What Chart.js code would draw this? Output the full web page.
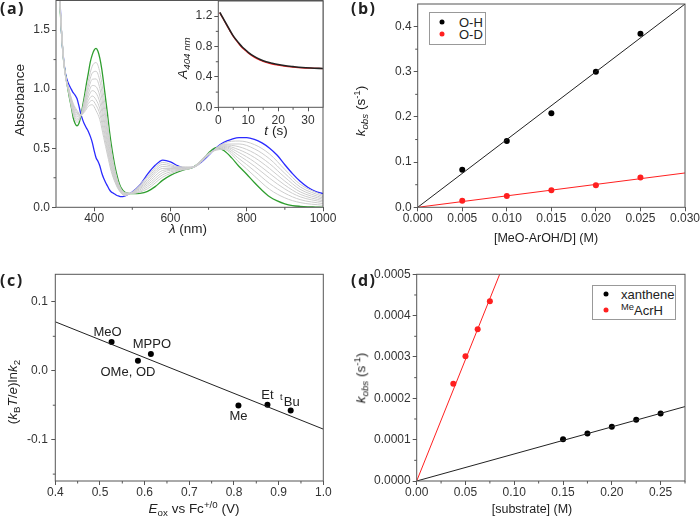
<!DOCTYPE html>
<html>
<head>
<meta charset="utf-8">
<script src="https://cdn.jsdelivr.net/npm/chart.js@4.4.1/dist/chart.umd.min.js"></script>
<style>
  body { margin: 0; width: 700px; height: 522px; position: relative; overflow: hidden; background: #fff;
         font-family: "Liberation Sans", Arial, sans-serif; color: #222; }
  canvas { position: absolute; }
  .t { position: absolute; white-space: nowrap; font-size: 13.5px; line-height: 1; }
  .s { font-size: 12.5px; }
  .c { transform: translate(-50%, -50%); }
  .r { transform: translate(-50%, -50%) rotate(-90deg); }
  .m { transform: translateY(-50%); font-size: 13px; }
  .b { font-family: "Open Sans", sans-serif; font-weight: bold; font-size: 16px; letter-spacing: 1.5px; }
  sub, sup { font-size: 72%; line-height: 0; position: relative; vertical-align: baseline; }
  sub { top: 0.3em; }
  sup { top: -0.5em; }
  .lg { position: absolute; border: 1px solid #999; background: #fff; }
  .dot { position: absolute; width: 5px; height: 5px; border-radius: 50%; transform: translate(-50%, -50%); }
</style>
</head>
<body>
<canvas id="pa" width="350" height="261" style="left:0;top:0"></canvas>
<canvas id="pin" width="170" height="140" style="left:165px;top:0"></canvas>
<canvas id="pb" width="360" height="261" style="left:350px;top:0"></canvas>
<canvas id="pc" width="350" height="261" style="left:0;top:261px"></canvas>
<canvas id="pd" width="360" height="261" style="left:350px;top:261px"></canvas>

<div class="t b" style="left:0;top:0">(a)</div>
<div class="t b" style="left:351px;top:0">(b)</div>
<div class="t b" style="left:0;top:272px">(c)</div>
<div class="t b" style="left:351px;top:272px">(d)</div>

<div class="t r" style="left:20px;top:100px">Absorbance</div>
<div class="t c" style="left:188px;top:229px"><i>λ</i> (nm)</div>
<div class="t r" style="left:183px;top:58px"><i>A</i><sub><i>404 nm</i></sub></div>
<div class="t c" style="left:276px;top:131px"><i>t</i> (s)</div>

<div class="t r" style="left:361px;top:111px"><i>k<sub>obs</sub></i> (s<sup>-1</sup>)</div>
<div class="t s c" style="left:546px;top:238px">[MeO-ArOH/D] (M)</div>
<div class="lg" style="left:429px;top:12px;width:55px;height:31px"></div>
<span class="dot" style="left:442px;top:22px;background:#000"></span>
<div class="t m" style="left:459px;top:22px">O-H</div>
<span class="dot" style="left:442px;top:34px;background:#ff2020"></span>
<div class="t m" style="left:459px;top:34px">O-D</div>

<div class="t r" style="left:13px;top:392px">(<i>k</i><sub>B</sub><i>T</i>/<i>e</i>)ln<i>k</i><sub>2</sub></div>
<div class="t c" style="left:194px;top:509px"><i>E</i><sub>ox</sub> vs Fc<sup>+/0</sup> (V)</div>

<div class="t r" style="left:361px;top:378px"><i>k<sub>obs</sub></i> (s<sup>-1</sup>)</div>
<div class="t s c" style="left:532px;top:509px">[substrate] (M)</div>
<div class="lg" style="left:592px;top:285px;width:82px;height:33px"></div>
<span class="dot" style="left:606px;top:294px;background:#000"></span>
<div class="t m" style="left:621px;top:294px">xanthene</div>
<span class="dot" style="left:606px;top:310px;background:#ff2020"></span>
<div class="t m" style="left:621px;top:310px"><sup>Me</sup>AcrH</div>

<script>
// ---- (a) spectra ----
const wl = [305,310,315,320,325,330,335,340,345,350,355,360,365,370,375,380,385,390,395,400,
  405,410,415,420,425,430,435,440,445,450,455,460,465,470,480,490,500,520,540,560,580,600,
  620,640,660,680,700,720,740,760,780,800,820,840,860,880,900,920,940,960,980,1000];
const absStart = [2.00,1.72,1.45,1.24,1.12,1.02,0.93,0.85,0.76,0.71,0.69,0.71,0.77,0.86,0.95,1.05,1.14,1.23,1.29,1.33,
  1.345,1.32,1.26,1.17,1.05,0.92,0.79,0.65,0.53,0.43,0.34,0.27,0.21,0.17,0.13,0.118,0.115,0.118,0.135,0.175,0.23,0.27,
  0.30,0.32,0.34,0.39,0.46,0.505,0.48,0.42,0.345,0.28,0.21,0.145,0.09,0.055,0.03,0.015,0.008,0.004,0.002,0.0];
const absEnd = [2.10,1.78,1.45,1.25,1.13,1.07,1.03,1.00,0.97,0.95,0.92,0.86,0.79,0.74,0.70,0.67,0.64,0.60,0.55,0.48,
  0.42,0.39,0.35,0.29,0.245,0.21,0.18,0.15,0.13,0.12,0.11,0.10,0.095,0.09,0.095,0.11,0.13,0.19,0.28,0.355,0.40,0.385,
  0.35,0.33,0.34,0.38,0.44,0.505,0.55,0.575,0.59,0.59,0.575,0.545,0.50,0.44,0.36,0.285,0.22,0.17,0.135,0.115];
const wlMid = [305,320,335,345,355,365,375,385,395,405,415,425,435,445,455,465,480,500,540,580,620,660,700,740,780,820,860,900,940,1000];
const absMid = [
  [2.01,1.24,0.943,0.787,0.72,0.773,0.918,1.075,1.194,1.225,1.142,0.945,0.711,0.478,0.31,0.195,0.125,0.117,0.157,0.256,0.308,0.34,0.457,0.491,0.382,0.265,0.152,0.08,0.04,0.017],
  [2.02,1.242,0.951,0.804,0.738,0.774,0.898,1.035,1.135,1.151,1.069,0.881,0.662,0.446,0.292,0.186,0.121,0.119,0.174,0.276,0.314,0.34,0.455,0.499,0.411,0.309,0.201,0.119,0.065,0.031],
  [2.03,1.243,0.958,0.819,0.754,0.776,0.88,1.0,1.083,1.086,1.005,0.825,0.619,0.418,0.276,0.178,0.117,0.121,0.19,0.295,0.319,0.34,0.452,0.507,0.438,0.349,0.246,0.155,0.089,0.044],
  [2.035,1.244,0.965,0.834,0.77,0.777,0.863,0.965,1.031,1.021,0.941,0.768,0.576,0.39,0.259,0.17,0.113,0.122,0.205,0.312,0.324,0.34,0.45,0.514,0.463,0.385,0.287,0.188,0.11,0.055],
  [2.04,1.244,0.971,0.846,0.784,0.778,0.848,0.935,0.987,0.966,0.887,0.72,0.54,0.366,0.246,0.163,0.11,0.124,0.219,0.329,0.329,0.34,0.448,0.521,0.487,0.422,0.328,0.221,0.131,0.067],
  [2.047,1.245,0.977,0.859,0.798,0.779,0.833,0.905,0.942,0.91,0.832,0.672,0.503,0.342,0.232,0.156,0.106,0.125,0.234,0.346,0.334,0.34,0.446,0.528,0.512,0.458,0.369,0.254,0.152,0.078],
  [2.052,1.245,0.982,0.869,0.81,0.78,0.82,0.88,0.905,0.864,0.787,0.631,0.473,0.322,0.22,0.15,0.103,0.127,0.248,0.363,0.339,0.34,0.444,0.535,0.536,0.495,0.41,0.287,0.173,0.09],
  [2.057,1.246,0.987,0.88,0.821,0.781,0.808,0.855,0.868,0.818,0.741,0.591,0.442,0.302,0.209,0.144,0.099,0.128,0.263,0.38,0.344,0.34,0.442,0.542,0.561,0.531,0.451,0.32,0.195,0.101]
];

// ---- (a) inset: A404 vs t ----
const tDecay = [0.5,1,2,3,4,5,6,7,8,9,10,12,14,16,18,20,22,25,28,31,35];
const aData = [1.25,1.215,1.145,1.075,1.005,0.94,0.888,0.84,0.795,0.76,0.725,0.67,0.63,0.60,0.58,0.563,0.55,0.536,0.524,0.517,0.511];
const aFit = [1.245,1.21,1.14,1.07,1.0,0.935,0.88,0.83,0.785,0.75,0.715,0.66,0.62,0.59,0.57,0.555,0.543,0.53,0.52,0.515,0.51];

// ---- (b) kobs vs [MeO-ArOH/D] ----
const concB = [0.005,0.010,0.015,0.020,0.025];
const kOH = [0.083,0.147,0.208,0.300,0.384];
const kOD = [0.0145,0.025,0.038,0.0486,0.066];
const fitBx = [0, 0.03];
const fitOH = [0, 0.45];
const fitOD = [0, 0.076];

// ---- (c) free-energy plot ----
const eox = [0.526,0.585,0.614,0.81,0.875,0.927];
const lnk = [0.0416,0.0145,0.0242,-0.0503,-0.0493,-0.0576];
const subNames = ['MeO','OMe, OD','MPPO','Me','Et','Bu'];
const subSup = ['','','','','','t'];
const fitCx = [0.4, 1.0];
const fitCy = [0.071, -0.0847];

// ---- (d) kobs vs [substrate] ----
const xanC = [0.15,0.175,0.20,0.225,0.25];
const xanK = [0.000101,0.000115,0.000131,0.000148,0.000163];
const acrC = [0.0375,0.05,0.0625,0.075];
const acrK = [0.000235,0.000302,0.000367,0.000435];
const fitXanX = [0, 0.275], fitXanY = [0, 0.00018];
const fitAcrX = [0, 0.1], fitAcrY = [0, 0.000588];

const pts = (xs, ys) => xs.map((x, i) => ({ x: x, y: ys[i] }));
const FONT = '"Liberation Sans", Arial, sans-serif';
Chart.defaults.font.family = FONT;
Chart.defaults.font.size = 12;
Chart.defaults.color = '#333';

// box around the plot + short minor ticks
const framePlugin = {
  id: 'frame',
  beforeDraw(chart, args, o) {
    if (!o.fill) return;
    const a = chart.chartArea, c = chart.ctx;
    c.save(); c.fillStyle = o.fill;
    c.fillRect(a.left, a.top, a.right - a.left, a.bottom - a.top);
    c.restore();
  },
  afterDraw(chart, args, o) {
    const a = chart.chartArea, c = chart.ctx;
    c.save();
    c.strokeStyle = '#555'; c.lineWidth = 1;
    c.strokeRect(a.left, a.top, a.right - a.left, a.bottom - a.top);
    c.beginPath();
    (o.minorX || []).forEach(v => { const p = chart.scales.x.getPixelForValue(v); c.moveTo(p, a.bottom); c.lineTo(p, a.bottom + 2.5); });
    (o.minorY || []).forEach(v => { const p = chart.scales.y.getPixelForValue(v); c.moveTo(a.left, p); c.lineTo(a.left - 2.5, p); });
    c.stroke();
    c.restore();
  }
};

// text next to the points of panel (c)
const labelPlugin = {
  id: 'ptlabels',
  afterDatasetsDraw(chart, args, o) {
    if (!o.names) return;
    const c = chart.ctx;
    const meta = chart.getDatasetMeta(o.dataset);
    c.save();
    c.fillStyle = '#222'; c.textAlign = 'center'; c.textBaseline = 'middle';
    meta.data.forEach((p, i) => {
      const x = p.x + o.offsets[i][0], y = p.y + o.offsets[i][1];
      c.font = '13px ' + FONT;
      const w = c.measureText(o.names[i]).width;
      c.fillText(o.names[i], x, y);
      if (o.sups[i]) {
        c.font = '9px ' + FONT;
        c.fillText(o.sups[i], x - w / 2 - 2.5, y - 4);
      }
    });
    c.restore();
  }
};

function axis(a, dir) {
  return {
    type: 'linear', min: a.min, max: a.max,
    border: { display: false },
    grid: { drawOnChartArea: false, tickLength: 4, color: '#555' },
    ticks: { autoSkip: false, maxRotation: 0, padding: a.pad, color: '#333',
             callback: v => v.toFixed(a.dec) },
    afterBuildTicks: s => { s.ticks = a.ticks.map(v => ({ value: v })); },
    afterFit: s => {
      if (dir === 'x') s.height = a.size; else s.width = a.size;
      s.paddingTop = 0; s.paddingBottom = 0; s.paddingLeft = 0; s.paddingRight = 0;
    }
  };
}

function panel(id, p) {
  return new Chart(document.getElementById(id), {
    type: 'scatter',
    data: { datasets: p.datasets },
    options: {
      responsive: false, animation: false, events: [],
      layout: { padding: { top: p.top, right: p.right, left: 0, bottom: 0 } },
      plugins: {
        legend: { display: false }, tooltip: { enabled: false },
        frame: { minorX: p.minorX, minorY: p.minorY, fill: p.fill },
        ptlabels: p.labels || {}
      },
      scales: { x: axis(p.x, 'x'), y: axis(p.y, 'y') }
    },
    plugins: [framePlugin, labelPlugin]
  });
}

const line = (data, color, width, extra) => Object.assign({
  data: data, showLine: true, borderColor: color, borderWidth: width, pointRadius: 0
}, extra || {});
const dots = (data, color) => ({
  data: data, showLine: false, pointRadius: 3, pointBorderWidth: 0, backgroundColor: color
});
const smooth = { cubicInterpolationMode: 'monotone' };

// (a)
panel('pa', {
  top: 0.5, right: 27,
  x: { min: 300, max: 1000, ticks: [400,600,800,1000], dec: 0, pad: 0, size: 53.7 },
  y: { min: 0, max: 1.75, ticks: [0,0.5,1.0,1.5], dec: 1, pad: 2, size: 56 },
  minorX: [500,700,900], minorY: [0.25,0.75,1.25],
  datasets: [
    ...absMid.map(a => line(pts(wlMid, a), '#cdcdcd', 1, smooth)),
    line(pts(wl, absStart), '#2f9e2f', 1.3, smooth),
    line(pts(wl, absEnd), '#2a2aff', 1.3, smooth)
  ]
});

// (a) inset
panel('pin', {
  top: 1, right: 12, fill: '#fff',
  x: { min: 0, max: 35, ticks: [0,10,20,30], dec: 0, pad: 2, size: 32.7 },
  y: { min: 0, max: 1.4, ticks: [0,0.4,0.8,1.2], dec: 1, pad: 2, size: 53.3 },
  minorX: [5,15,25], minorY: [0.2,0.6,1.0],
  datasets: [
    line(pts(tDecay, aData), '#222', 1.6, smooth),
    line(pts(tDecay, aFit), '#ff2020', 1.3, smooth)
  ]
});

// (b)
panel('pb', {
  top: 1, right: 25,
  x: { min: 0, max: 0.03, ticks: [0,0.005,0.01,0.015,0.02,0.025,0.03], dec: 3, pad: 0, size: 53.7 },
  y: { min: 0, max: 0.45, ticks: [0,0.1,0.2,0.3,0.4], dec: 1, pad: 2, size: 67.7 },
  minorY: [0.05,0.15,0.25,0.35],
  datasets: [
    line(pts(fitBx, fitOH), '#222', 1),
    line(pts(fitBx, fitOD), '#ff2020', 1),
    dots(pts(concB, kOH), '#000'),
    dots(pts(concB, kOD), '#ff2020')
  ]
});

// (c)
panel('pc', {
  top: 13.3, right: 26.7,
  x: { min: 0.4, max: 1.0, ticks: [0.4,0.5,0.6,0.7,0.8,0.9,1.0], dec: 1, pad: 0.5, size: 41 },
  y: { min: -0.16, max: 0.14, ticks: [-0.1,0,0.1], dec: 1, pad: 3.5, size: 55.3 },
  minorX: [0.45,0.55,0.65,0.75,0.85,0.95], minorY: [-0.15,-0.05,0.05],
  labels: { dataset: 1, names: subNames, sups: subSup,
            offsets: [[-4,-10],[-10,12],[1,-10],[0,11],[0,-9],[1,-8.5]] },
  datasets: [
    line(pts(fitCx, fitCy), '#222', 1),
    dots(pts(eox, lnk), '#000')
  ]
});

// (d)
panel('pd', {
  top: 13.3, right: 25,
  x: { min: 0, max: 0.275, ticks: [0,0.05,0.1,0.15,0.2,0.25], dec: 2, pad: 0.5, size: 41 },
  y: { min: 0, max: 0.0005, ticks: [0,0.0001,0.0002,0.0003,0.0004,0.0005], dec: 4, pad: 2, size: 66.7 },
  minorX: [0.025,0.075,0.125,0.175,0.225,0.275],
  minorY: [0.00005,0.00015,0.00025,0.00035,0.00045],
  datasets: [
    line(pts(fitXanX, fitXanY), '#222', 1),
    line(pts(fitAcrX, fitAcrY), '#ff2020', 1),
    dots(pts(xanC, xanK), '#000'),
    dots(pts(acrC, acrK), '#ff2020')
  ]
});
</script>
</body>
</html>
